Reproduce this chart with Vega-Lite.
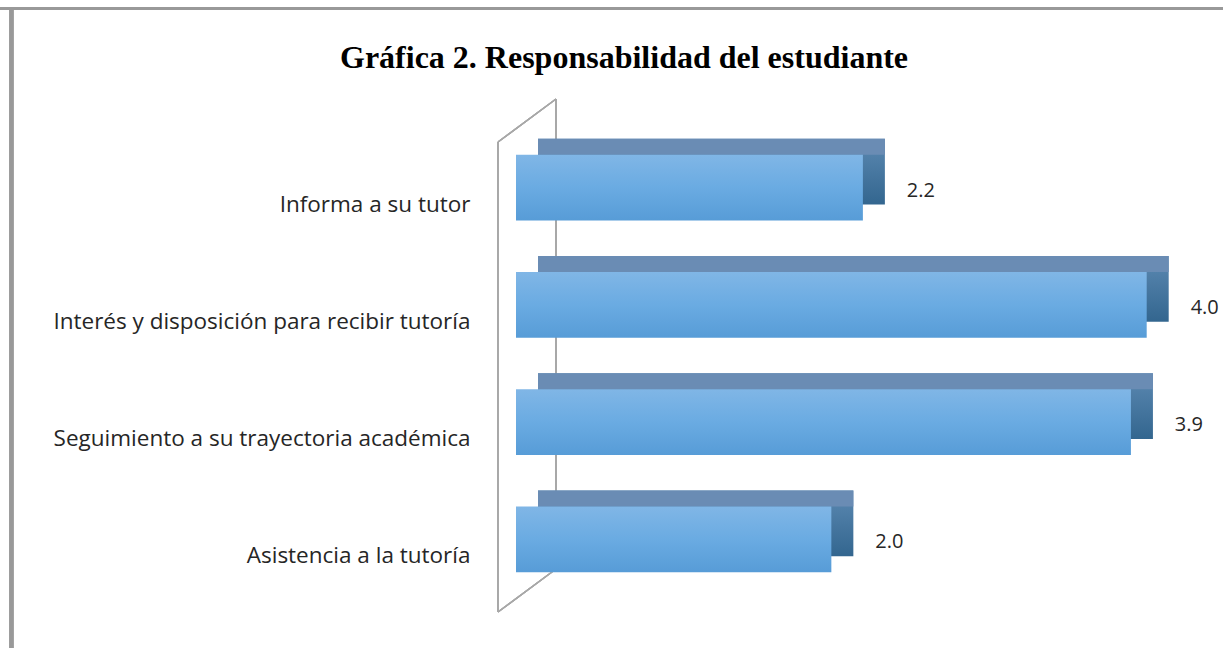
{
  "$schema": "https://vega.github.io/schema/vega-lite/v6.json",
  "width": 678,
  "height": 469,
  "autosize": {"type": "none"},
  "padding": {"left": 516, "top": 129, "right": 29, "bottom": 50},
  "background": "white",
  "config": {"view": {"stroke": null}},
  "title": {
    "text": "Gráfica 2. Responsabilidad del estudiante",
    "font": "Liberation Serif",
    "fontSize": 32,
    "fontWeight": "bold",
    "color": "#000000",
    "anchor": "start",
    "frame": "group",
    "dx": -176,
    "offset": -70
  },
  "data": {
    "values": [
      {"cat": "Informa a su tutor", "v": 2.2},
      {"cat": "Interés y disposición para recibir tutoría", "v": 4.0},
      {"cat": "Seguimiento a su trayectoria académica", "v": 3.9},
      {"cat": "Asistencia a la tutoría", "v": 2.0}
    ]
  },
  "resolve": {"scale": {"y": "independent"}, "axis": {"y": "independent"}},
  "layer": [
    {
      "mark": {"type": "rule", "color": "#999999", "strokeWidth": 3},
      "encoding": {
        "x": {"datum": -3.4, "type": "quantitative", "scale": {"domain": [0, 4.3], "nice": false, "zero": false}, "axis": null},
        "x2": {"datum": 4.6},
        "y": {"datum": 1.2569, "type": "quantitative", "scale": {"domain": [0, 1], "nice": false, "zero": false}, "axis": null}
      }
    },
    {
      "mark": {"type": "rule", "color": "#999999", "strokeWidth": 4},
      "encoding": {
        "x": {"datum": -3.2, "type": "quantitative"},
        "y": {"datum": 1.26, "type": "quantitative", "scale": {"domain": [0, 1], "nice": false, "zero": false}, "axis": null},
        "y2": {"datum": -0.12}
      }
    },
    {
      "mark": {"type": "rule", "color": "#a8a8a8", "strokeWidth": 1.3},
      "encoding": {
        "x": {"datum": -0.1142, "type": "quantitative"},
        "y": {"datum": 0.9723, "type": "quantitative", "scale": {"domain": [0, 1], "nice": false, "zero": false}, "axis": null},
        "y2": {"datum": -0.0299}
      }
    },
    {
      "mark": {"type": "rule", "color": "#a8a8a8", "strokeWidth": 1.3},
      "encoding": {
        "x": {"datum": 0.2537, "type": "quantitative"},
        "y": {"datum": 1.064, "type": "quantitative", "scale": {"domain": [0, 1], "nice": false, "zero": false}, "axis": null},
        "y2": {"datum": 0.0618}
      }
    },
    {
      "mark": {"type": "rule", "color": "#a8a8a8", "strokeWidth": 1.3},
      "encoding": {
        "x": {"datum": -0.1142, "type": "quantitative"},
        "x2": {"datum": 0.2537},
        "y": {"datum": 0.9723, "type": "quantitative", "scale": {"domain": [0, 1], "nice": false, "zero": false}, "axis": null},
        "y2": {"datum": 1.064}
      }
    },
    {
      "mark": {"type": "rule", "color": "#a8a8a8", "strokeWidth": 1.3},
      "encoding": {
        "x": {"datum": -0.1142, "type": "quantitative"},
        "x2": {"datum": 0.2537},
        "y": {"datum": -0.0299, "type": "quantitative", "scale": {"domain": [0, 1], "nice": false, "zero": false}, "axis": null},
        "y2": {"datum": 0.0618}
      }
    },
    {
      "layer": [
        {
          "mark": {
            "type": "bar",
            "xOffset": 22,
            "x2Offset": 22,
            "yOffset": -16,
            "color": {
              "gradient": "linear",
              "x1": 0, "y1": 0, "x2": 0, "y2": 1,
              "stops": [
                {"offset": 0, "color": "#5c89b2"},
                {"offset": 1, "color": "#33668f"}
              ]
            }
          },
          "encoding": {
            "x": {"field": "v", "type": "quantitative"},
            "y": {"field": "cat", "type": "nominal", "sort": null}
          }
        },
        {
          "mark": {
            "type": "bar",
            "height": 16,
            "xOffset": 22,
            "x2Offset": 22,
            "yOffset": -40.8,
            "color": "#6a8cb4"
          },
          "encoding": {
            "x": {"field": "v", "type": "quantitative"},
            "y": {"field": "cat", "type": "nominal", "sort": null}
          }
        },
        {
          "mark": {
            "type": "bar",
            "color": {
              "gradient": "linear",
              "x1": 0, "y1": 0, "x2": 0, "y2": 1,
              "stops": [
                {"offset": 0, "color": "#80b6e6"},
                {"offset": 0.5, "color": "#6aabe2"},
                {"offset": 1, "color": "#579cd7"}
              ]
            }
          },
          "encoding": {
            "x": {"field": "v", "type": "quantitative"},
            "y": {
              "field": "cat",
              "type": "nominal",
              "sort": null,
              "title": null,
              "scale": {"paddingInner": 0.44, "paddingOuter": 0.22},
              "axis": {
                "ticks": false,
                "domain": false,
                "labelPadding": 46,
                "labelOffset": 17,
                "labelFont": "Open Sans",
                "labelFontSize": 22.5,
                "labelColor": "#262626",
                "labelLimit": 0
              }
            }
          }
        },
        {
          "mark": {
            "type": "text",
            "dx": 58,
            "dy": 3,
            "align": "center",
            "baseline": "middle",
            "font": "Open Sans",
            "fontSize": 20,
            "color": "#262626"
          },
          "encoding": {
            "x": {"field": "v", "type": "quantitative"},
            "y": {"field": "cat", "type": "nominal", "sort": null},
            "text": {"field": "v", "type": "quantitative", "format": ".1f"}
          }
        }
      ]
    }
  ]
}
